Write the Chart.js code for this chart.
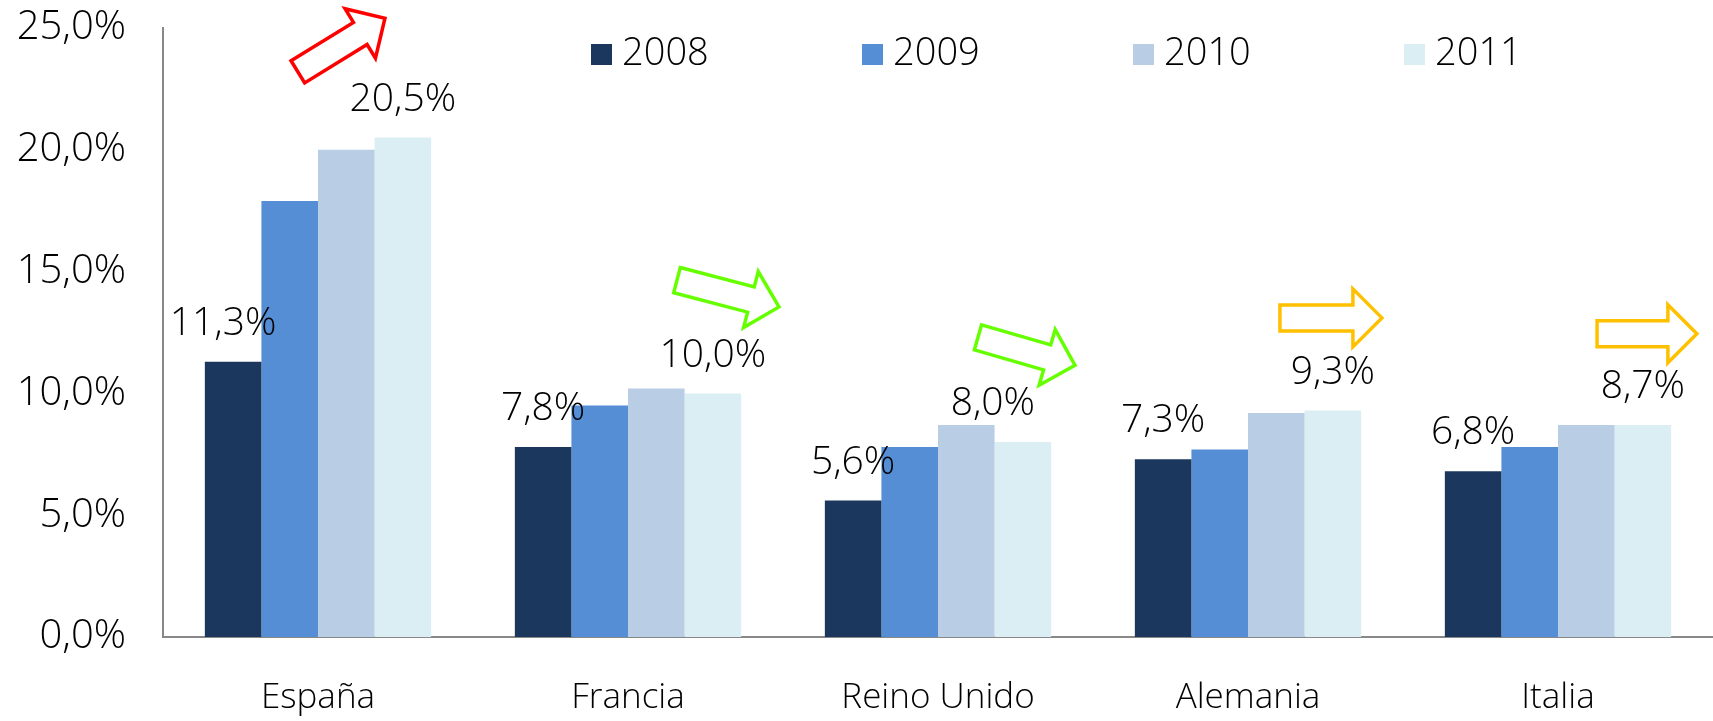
<!DOCTYPE html>
<html>
<head>
<meta charset="utf-8">
<script src="https://cdn.jsdelivr.net/npm/chart.js@4.4.1/dist/chart.umd.min.js"></script>
<style>
  html, body { margin: 0; padding: 0; background: #fff; }
  #wrap { width: 1713px; height: 721px; }
</style>
</head>
<body>
<div id="wrap"><canvas id="barChart"></canvas></div>
<script>
// data
const countries = ['España', 'Francia', 'Reino Unido', 'Alemania', 'Italia'];
const years = ['2008', '2009', '2010', '2011'];
const v2008 = [11.3, 7.8, 5.6, 7.3, 6.8];
const v2009 = [17.9, 9.5, 7.8, 7.7, 7.8];
const v2010 = [20.0, 10.2, 8.7, 9.2, 8.7];
const v2011 = [20.5, 10.0, 8.0, 9.3, 8.7];
const yTicks = [0, 5, 10, 15, 20, 25];

const colors = ['#1b375d', '#558ed5', '#b9cde5', '#dbeef4'];
const FONT = '"Open Sans", "DejaVu Sans", sans-serif';

// trend arrows: tail and tip as [category index, value]
const arrows = [
  { from: [-0.065, 23.2], to: [0.216, 25.4], color: '#ff0000' },
  { from: [1.158, 14.65], to: [1.487, 13.55], color: '#66ff00' },
  { from: [2.129, 12.3], to: [2.442, 11.15], color: '#66ff00' },
  { from: [3.103, 13.1], to: [3.432, 13.1], color: '#ffc000' },
  { from: [4.126, 12.45], to: [4.448, 12.45], color: '#ffc000' }
];

function pct(v) {
  return v.toFixed(1).replace('.', ',') + '%';
}

const valueLabels = {
  id: 'valueLabels',
  afterDatasetsDraw(chart) {
    const ctx = chart.ctx;
    ctx.save();
    ctx.font = '300 39px ' + FONT;
    ctx.fillStyle = '#000';
    ctx.textAlign = 'center';
    ctx.textBaseline = 'middle';
    [0, 3].forEach(di => {
      const meta = chart.getDatasetMeta(di);
      meta.data.forEach((bar, i) => {
        const v = chart.data.datasets[di].data[i];
        let dx = 0;
        if (di === 0 && i === 0) dx = -10;
        if (di === 3 && i === 2) dx = -30;
        ctx.fillText(pct(v), bar.x + dx, bar.y - 38);
      });
    });
    ctx.restore();
  }
};

const trendArrows = {
  id: 'trendArrows',
  afterDraw(chart) {
    const ctx = chart.ctx;
    const xs = chart.scales.x, ys = chart.scales.y;
    ctx.save();
    arrows.forEach(a => {
      const x0 = xs.getPixelForValue(a.from[0]), y0 = ys.getPixelForValue(a.from[1]);
      const x1 = xs.getPixelForValue(a.to[0]), y1 = ys.getPixelForValue(a.to[1]);
      const len = Math.hypot(x1 - x0, y1 - y0);
      const ang = Math.atan2(y1 - y0, x1 - x0);
      const sw = 13, hw = 29, hl = 29;
      ctx.translate(x0, y0);
      ctx.rotate(ang);
      ctx.beginPath();
      ctx.moveTo(0, -sw);
      ctx.lineTo(len - hl, -sw);
      ctx.lineTo(len - hl, -hw);
      ctx.lineTo(len, 0);
      ctx.lineTo(len - hl, hw);
      ctx.lineTo(len - hl, sw);
      ctx.lineTo(0, sw);
      ctx.closePath();
      ctx.strokeStyle = a.color;
      ctx.lineWidth = 3.5;
      ctx.lineJoin = 'miter';
      ctx.stroke();
      ctx.setTransform(1, 0, 0, 1, 0, 0);
    });
    ctx.restore();
  }
};

const topLegend = {
  id: 'topLegend',
  afterDraw(chart) {
    const ctx = chart.ctx;
    ctx.save();
    ctx.font = '300 38px ' + FONT;
    ctx.textBaseline = 'middle';
    ctx.textAlign = 'left';
    chart.data.datasets.forEach((ds, i) => {
      const x = 591 + i * 271;
      ctx.fillStyle = ds.backgroundColor;
      ctx.fillRect(x, 44, 21, 21);
      ctx.fillStyle = '#000';
      ctx.fillText(ds.label, x + 31, 54);
    });
    ctx.restore();
  }
};

const ctx = document.getElementById('barChart').getContext('2d');
new Chart(ctx, {
  type: 'bar',
  data: {
    labels: countries,
    datasets: [
      { label: years[0], data: v2008, backgroundColor: colors[0] },
      { label: years[1], data: v2009, backgroundColor: colors[1] },
      { label: years[2], data: v2010, backgroundColor: colors[2] },
      { label: years[3], data: v2011, backgroundColor: colors[3] }
    ]
  },
  options: {
    responsive: true,
    maintainAspectRatio: false,
    animation: false,
    layout: { padding: { top: 28, left: 0, right: 0, bottom: 0 } },
    datasets: { bar: { categoryPercentage: 0.73, barPercentage: 1.0 } },
    plugins: {
      legend: { display: false },
      tooltip: { enabled: false }
    },
    scales: {
      x: {
        grid: { display: false, drawTicks: false },
        border: { display: true, color: '#888888', width: 2 },
        ticks: { color: '#000', font: { family: FONT, size: 35, weight: 300 }, padding: 40 },
        afterFit(scale) { scale.height = 84; }
      },
      y: {
        min: 0,
        max: 25,
        afterBuildTicks(scale) { scale.ticks = yTicks.map(v => ({ value: v })); },
        grid: { display: false, drawTicks: false },
        border: { display: true, color: '#888888', width: 2 },
        ticks: {
          color: '#000',
          font: { family: FONT, size: 40, weight: 300 },
          padding: 37,
          callback: v => pct(v)
        },
        afterFit(scale) {
          scale.width = 163;
          scale.paddingTop = 0;
          scale.paddingBottom = 0;
        }
      }
    }
  },
  plugins: [valueLabels, trendArrows, topLegend]
});
</script>
</body>
</html>
